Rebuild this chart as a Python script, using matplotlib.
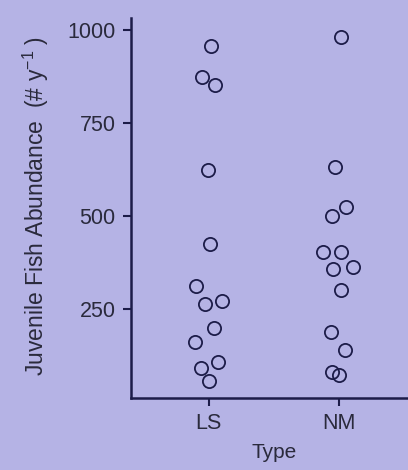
import matplotlib.pyplot as plt

# Datos
types = ["LS", "NM"]
ls_values = [957, 874, 852, 624, 425, 312, 263, 271, 199, 161, 108, 91, 56]
ls_jitter = [0.02, -0.05, 0.05, -0.01, 0.01, -0.10, -0.03, 0.10, 0.04, -0.11, 0.07, -0.06, 0.0]
nm_values = [981, 632, 524, 500, 403, 403, 358, 363, 301, 188, 140, 81, 73]
nm_jitter = [0.02, -0.03, 0.06, -0.05, -0.12, 0.02, -0.04, 0.11, 0.02, -0.06, 0.05, -0.05, 0.0]
y_ticks = [250, 500, 750, 1000]

bg = "#b5b3e5"
ink = "#1c1c48"
text_col = "#2a2a3c"

plt.rcParams["font.family"] = ["Liberation Sans", "DejaVu Sans"]
plt.rcParams["mathtext.fontset"] = "custom"
plt.rcParams["mathtext.rm"] = "Liberation Sans"
plt.rcParams["mathtext.it"] = "Liberation Sans"

fig = plt.figure(figsize=(4.08, 4.70), dpi=100, facecolor=bg)
ax = fig.add_axes([0.321, 0.153, 0.70, 0.809], facecolor=bg)

for i, (vals, jit) in enumerate([(ls_values, ls_jitter), (nm_values, nm_jitter)]):
    xs = [i + 1 + j for j in jit]
    ax.plot(xs, vals, linestyle="none", marker="o", markersize=9.5,
            markerfacecolor="none", markeredgecolor=ink, markeredgewidth=1.3)

ax.set_xlim(0.4, 2.6)
ax.set_ylim(11, 1032)
ax.set_xticks([1, 2])
ax.set_xticklabels(types)
ax.set_yticks(y_ticks)

for side in ["top", "right"]:
    ax.spines[side].set_visible(False)
for side in ["left", "bottom"]:
    ax.spines[side].set_color(ink)
    ax.spines[side].set_linewidth(1.8)

ax.tick_params(axis="both", colors=ink, labelcolor=text_col, labelsize=15.5,
               length=6, width=1.5, direction="out")
ax.tick_params(axis="y", pad=5)
ax.tick_params(axis="x", pad=5)

ax.set_xlabel("Type", fontsize=15, color=text_col, labelpad=6)
ax.set_ylabel("Juvenile Fish Abundance  (# y$^{-1}$ )", fontsize=16.5,
              color=text_col, labelpad=13)
ax.yaxis.set_label_coords(-0.28, 0.505)

fig.savefig("out.png", dpi=100, facecolor=bg)
